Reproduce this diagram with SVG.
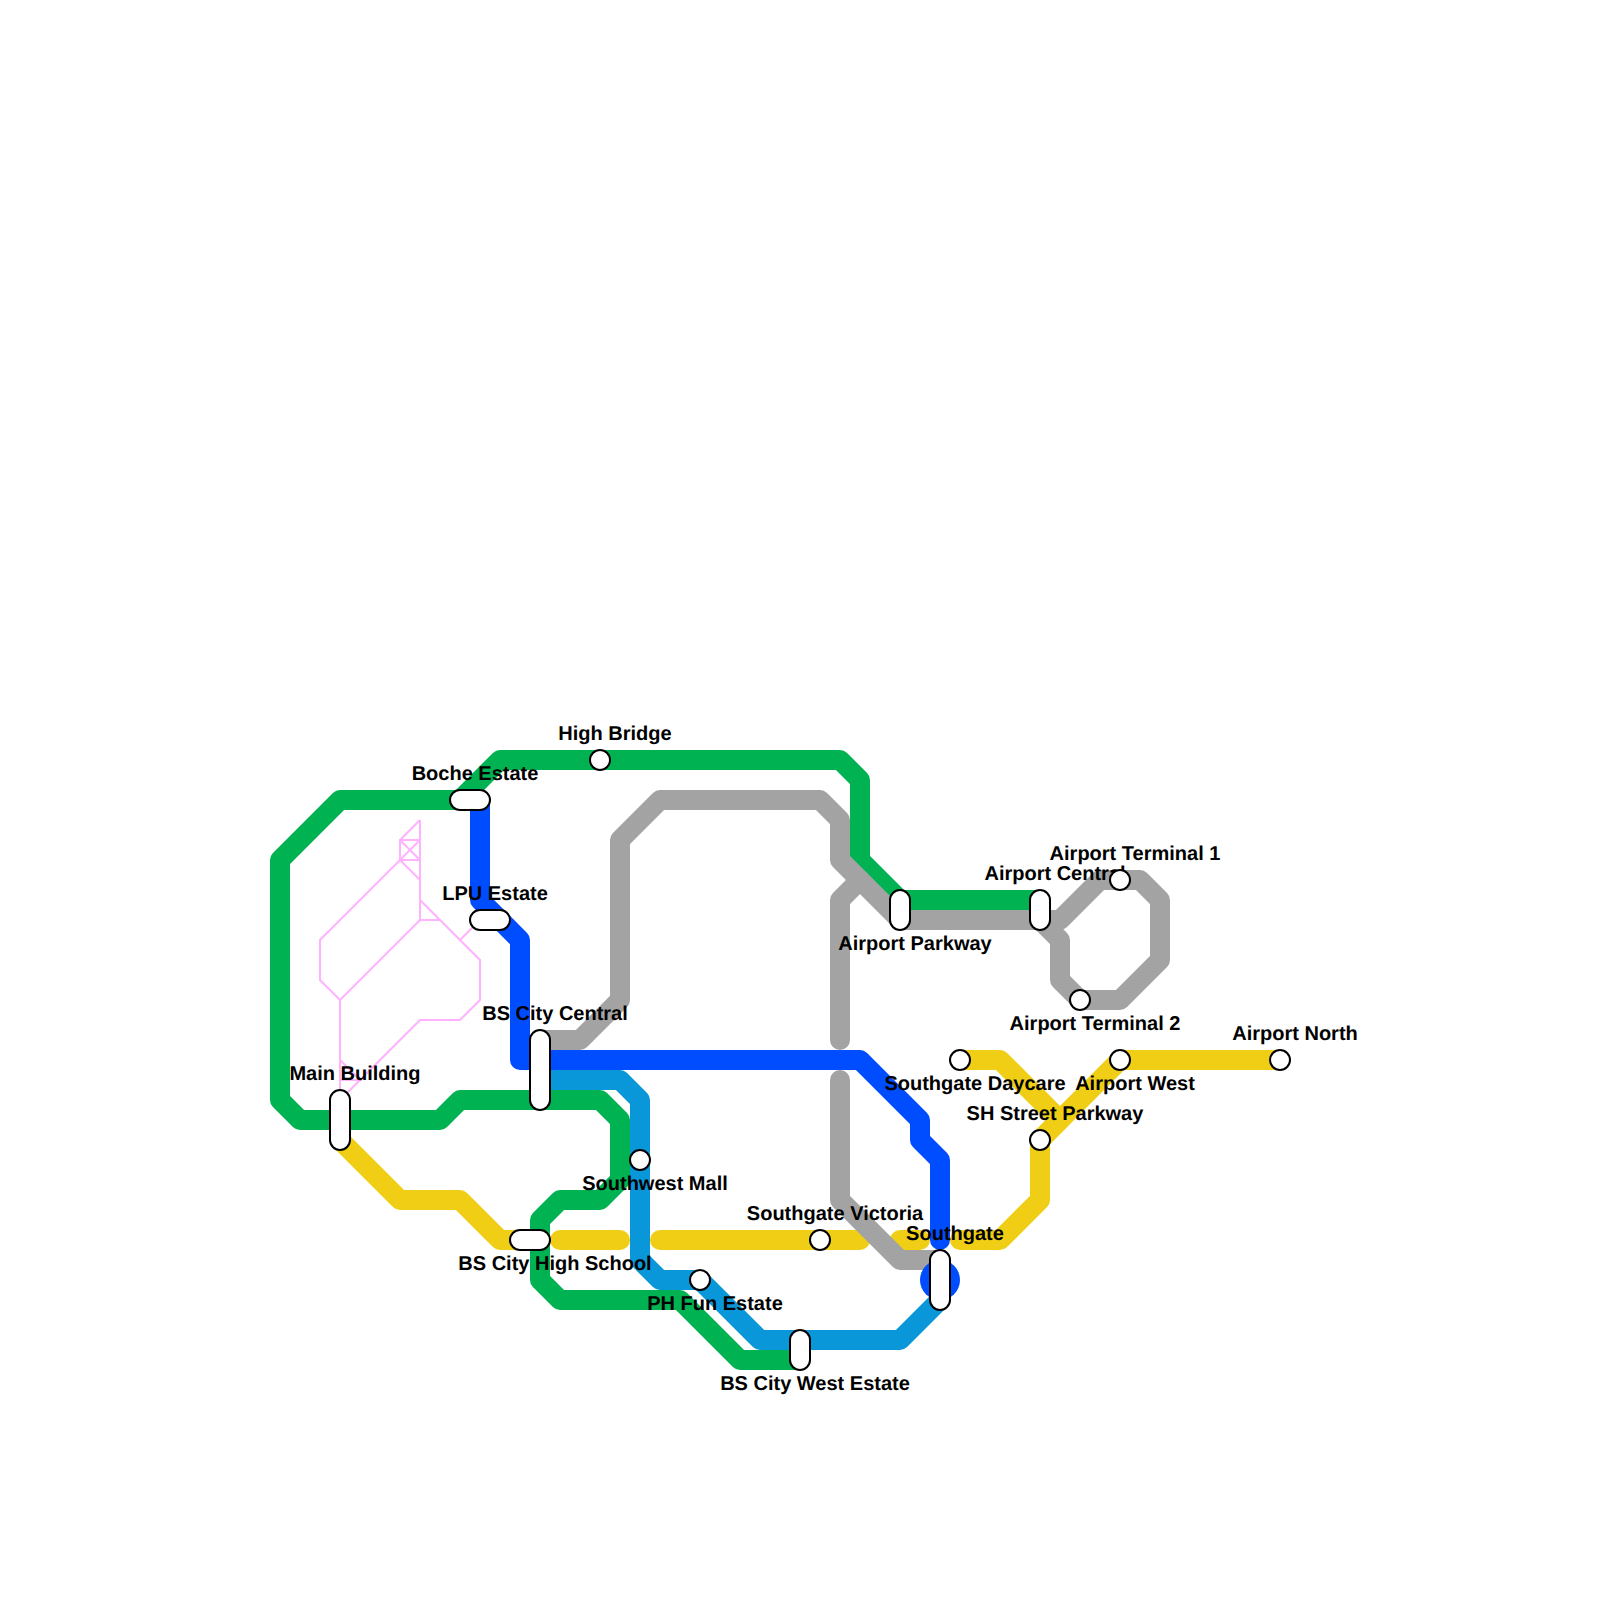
<svg xmlns="http://www.w3.org/2000/svg" width="1600" height="1600" viewBox="0 0 1600 1600">
<style>
.l{fill:none;stroke-width:20;stroke-linecap:round;stroke-linejoin:round}
.pink{fill:none;stroke:#ffb3ff;stroke-width:2;stroke-linecap:butt;stroke-linejoin:miter}
.green{stroke:#00b251}.yellow{stroke:#f0ce15}.gray{stroke:#a3a3a3}.blue{stroke:#004cff}.sky{stroke:#0a97d9}
.st{fill:#fff;stroke:#000;stroke-width:2}
text{font-family:"Liberation Sans",Arial,sans-serif;font-weight:700;font-size:20px;text-anchor:middle;fill:#000;text-rendering:geometricPrecision}
</style>
<rect width="1600" height="1600" fill="#fff"/>
<g id="connectors">
<g id="pink-lines" class="pink">
<path d="M420 820L400 840V860L320 940V980L340 1000L420 920V820"/>
<path d="M400 840H420M400 860H420M400 840L420 860M420 840L400 860M400 860L420 880"/>
<path d="M420 920H440M420 900L480 960V1000L460 1020H420L340 1100"/>
<path d="M460 940L480 920"/>
<path d="M340 1000V1100M340 1060L360 1080H340"/>
</g>
<path class="l sky" d="M540 1080H620L640 1100V1260L660 1280H700L760 1340H900L940 1300"/>
<path class="l green" d="M460 800L500 760H840L860 780V860L900 900H1040"/>
<path class="l green" d="M470 800H340L280 860V1100L300 1120H440L460 1100H600L620 1120V1180L600 1200H560L540 1220V1280L560 1300H680L740 1360H800"/>
<path class="l yellow" d="M340 1140L400 1200H460L500 1240H530"/>
<path class="l yellow" d="M560 1240H620"/>
<path class="l yellow" d="M660 1240H860"/>
<path class="l yellow" d="M900 1240H920"/>
<path class="l yellow" d="M960 1240H1000L1040 1200V1140L1120 1060H1280"/>
<path class="l yellow" d="M960 1060H1000L1060 1120L1040 1140"/>
<path class="l gray" d="M540 1040H580L620 1000V840L660 800H820L840 820V860L900 920H1040L1060 940V980L1080 1000H1120L1160 960V900L1140 880H1100L1060 920H1040"/>
<path class="l gray" d="M840 1040V900L860 880"/>
<path class="l gray" d="M840 1080V1200L900 1260H940"/>
<path class="l blue" d="M480 800V900L520 940V1060H860L920 1120V1140L940 1160V1240"/>
<circle cx="940" cy="1280" r="20" fill="#004cff"/>
</g>
<g id="boche-estate"><rect class="st" x="450" y="790" width="40" height="20" rx="10"/><text x="475" y="780">Boche Estate</text></g>
<g id="high-bridge"><circle class="st" cx="600" cy="760" r="10"/><text x="615" y="740">High Bridge</text></g>
<g id="lpu-estate"><rect class="st" x="470" y="910" width="40" height="20" rx="10"/><text x="495" y="900">LPU Estate</text></g>
<g id="bs-city-central"><rect class="st" x="530" y="1030" width="20" height="80" rx="10"/><text x="555" y="1020">BS City Central</text></g>
<g id="main-building"><rect class="st" x="330" y="1090" width="20" height="60" rx="10"/><text x="355" y="1080">Main Building</text></g>
<g id="southwest-mall"><circle class="st" cx="640" cy="1160" r="10"/><text x="655" y="1190">Southwest Mall</text></g>
<g id="bs-city-high-school"><rect class="st" x="510" y="1230" width="40" height="20" rx="10"/><text x="555" y="1270">BS City High School</text></g>
<g id="ph-fun-estate"><circle class="st" cx="700" cy="1280" r="10"/><text x="715" y="1310">PH Fun Estate</text></g>
<g id="bs-city-west-estate"><rect class="st" x="790" y="1330" width="20" height="40" rx="10"/><text x="815" y="1390">BS City West Estate</text></g>
<g id="southgate-victoria"><circle class="st" cx="820" cy="1240" r="10"/><text x="835" y="1220">Southgate Victoria</text></g>
<g id="southgate"><rect class="st" x="930" y="1250" width="20" height="60" rx="10"/><text x="955" y="1240">Southgate</text></g>
<g id="southgate-daycare"><circle class="st" cx="960" cy="1060" r="10"/><text x="975" y="1090">Southgate Daycare</text></g>
<g id="airport-west"><circle class="st" cx="1120" cy="1060" r="10"/><text x="1135" y="1090">Airport West</text></g>
<g id="airport-north"><circle class="st" cx="1280" cy="1060" r="10"/><text x="1295" y="1040">Airport North</text></g>
<g id="sh-street-parkway"><circle class="st" cx="1040" cy="1140" r="10"/><text x="1055" y="1120">SH Street Parkway</text></g>
<g id="airport-parkway"><rect class="st" x="890" y="890" width="20" height="40" rx="10"/><text x="915" y="950">Airport Parkway</text></g>
<g id="airport-central"><text x="1055" y="880">Airport Central</text><rect class="st" x="1030" y="890" width="20" height="40" rx="10"/></g>
<g id="airport-terminal-1"><circle class="st" cx="1120" cy="880" r="10"/><text x="1135" y="860">Airport Terminal 1</text></g>
<g id="airport-terminal-2"><circle class="st" cx="1080" cy="1000" r="10"/><text x="1095" y="1030">Airport Terminal 2</text></g>
</svg>
